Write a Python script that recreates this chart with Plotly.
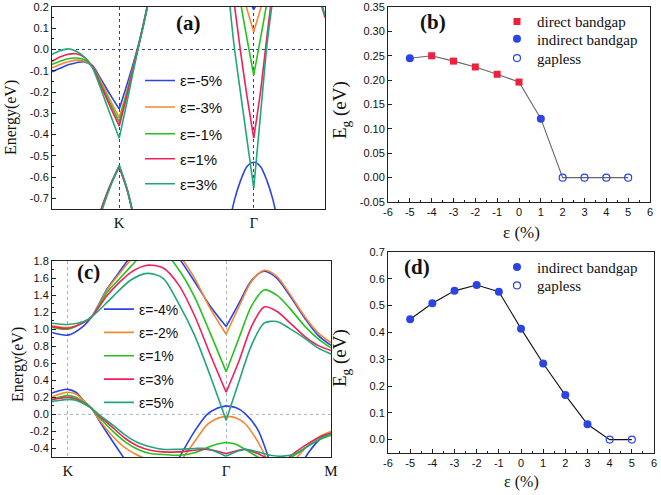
import plotly.graph_objects as go

W, H = 661, 495
SERIF = "Liberation Serif"
SANS = "Liberation Sans"

# ---------------- colours / labels ----------------
colors = ["#2a44e6", "#f7862f", "#25c21f", "#f0215a", "#21a67c"]
labels_a = ["ε=-5%", "ε=-3%", "ε=-1%", "ε=1%", "ε=3%"]
labels_c = ["ε=-4%", "ε=-2%", "ε=1%", "ε=3%", "ε=5%"]

# ---------------- panel (a) band structure ----------------
a_kpos = [1.0, 2.0]
a_klab = ["K", "Γ"]
a_yticks = [0.2, 0.1, 0.0, -0.1, -0.2, -0.3, -0.4, -0.5, -0.6, -0.7]
a_yticklab = ["0.2", "0.1", "0.0", "-0.1", "-0.2", "-0.3", "-0.4", "-0.5", "-0.6", "-0.7"]

a_x_cbK_left = [0.50, 0.56, 0.62, 0.68, 0.74, 0.80, 0.86, 0.93, 1.00]
a_cbK_left = [
    [-0.105, -0.088, -0.072, -0.062, -0.058, -0.075, -0.135, -0.21, -0.28],
    [-0.086, -0.070, -0.057, -0.050, -0.055, -0.080, -0.145, -0.235, -0.32],
    [-0.070, -0.055, -0.043, -0.040, -0.048, -0.080, -0.155, -0.25, -0.34],
    [-0.055, -0.035, -0.022, -0.020, -0.036, -0.080, -0.165, -0.265, -0.36],
    [-0.023, -0.006, 0.003, -0.008, -0.035, -0.085, -0.18, -0.30, -0.417],
]
a_x_cbK_right = [1.00, 1.05, 1.10, 1.15, 1.20, 1.25]
a_cbK_right = [
    [-0.28, -0.18, -0.075, 0.04, 0.18, 0.34],
    [-0.32, -0.21, -0.09, 0.035, 0.175, 0.34],
    [-0.34, -0.22, -0.095, 0.035, 0.175, 0.34],
    [-0.36, -0.235, -0.10, 0.035, 0.175, 0.34],
    [-0.417, -0.27, -0.115, 0.03, 0.17, 0.33],
]
a_x_vbK_left = [0.82, 0.88, 0.94, 1.00]
a_vbK_left = [
    [-0.84, -0.725, -0.628, -0.55],
    [-0.84, -0.725, -0.628, -0.55],
    [-0.84, -0.727, -0.630, -0.55],
    [-0.845, -0.728, -0.630, -0.552],
    [-0.86, -0.740, -0.635, -0.543],
]
a_x_vbK_right = [1.00, 1.06, 1.12]
a_vbK_right = [
    [-0.55, -0.66, -0.82],
    [-0.55, -0.66, -0.82],
    [-0.55, -0.662, -0.82],
    [-0.552, -0.664, -0.825],
    [-0.543, -0.66, -0.83],
]
a_x_cbG_left = [1.80, 1.85, 1.90, 1.95, 2.00]
a_cbG_left = [
    [0.60, 0.50, 0.40, 0.26, 0.187],
    [0.50, 0.40, 0.30, 0.19, 0.083],
    [0.70, 0.45, 0.23, 0.05, -0.12],
    [0.45, 0.24, 0.00, -0.22, -0.417],
    [0.36, 0.04, -0.196, -0.424, -0.652],
]
a_x_cbG_right = [2.00, 2.05, 2.10, 2.15, 2.20]
a_cbG_right = [
    [0.187, 0.26, 0.40, 0.50, 0.60],
    [0.083, 0.19, 0.30, 0.40, 0.50],
    [-0.12, 0.05, 0.23, 0.45, 0.70],
    [-0.417, -0.20, 0.07, 0.33, 0.60],
    [-0.652, -0.31, 0.03, 0.28, 0.55],
]
a_x_vbG = [1.82, 1.86, 1.90, 1.95, 2.00, 2.05, 2.10, 2.14, 2.18]
a_vbG = [
    [-0.81, -0.70, -0.62, -0.55, -0.53, -0.55, -0.62, -0.70, -0.81],
    None, None, None, None,
]
a_x_edge = [2.48, 2.53]
a_edge = [None, None, None, [0.26, 0.15], [0.27, 0.16]]

# ---------------- panel (c) band structure ----------------
c_kpos = [0.0, 1.0, 1.663]
c_klab = ["K", "Γ", "M"]
c_yticks = [1.8, 1.6, 1.4, 1.2, 1.0, 0.8, 0.6, 0.4, 0.2, 0.0, -0.2, -0.4]
c_yticklab = ["1.8", "1.6", "1.4", "1.2", "1.0", "0.8", "0.6", "0.4", "0.2", "0.0", "-0.2", "-0.4"]

c_x_cb_left = [-0.10, 0.0, 0.10, 0.15, 0.25, 0.32, 0.40, 0.50, 0.60, 0.70, 0.80, 0.90, 1.0]
c_cb_left = [
    [0.96, 0.93, 1.04, 1.145, 1.48, 1.66, 1.86, 2.05, 2.10, 1.84, 1.56, 1.27, 1.03],
    [1.04, 1.02, 1.08, 1.145, 1.47, 1.64, 1.82, 2.02, 2.10, 1.88, 1.60, 1.24, 0.94],
    [1.02, 1.00, 1.08, 1.145, 1.44, 1.58, 1.74, 1.92, 1.92, 1.70, 1.38, 0.95, 0.50],
    [1.03, 1.01, 1.08, 1.145, 1.40, 1.54, 1.67, 1.75, 1.72, 1.52, 1.16, 0.70, 0.26],
    [1.07, 1.055, 1.09, 1.145, 1.32, 1.45, 1.58, 1.655, 1.60, 1.30, 0.93, 0.45, -0.07],
]
c_x_cb_right = [1.0, 1.08, 1.16, 1.24, 1.32, 1.40, 1.50, 1.58, 1.663]
c_cb_right = [
    [1.03, 1.30, 1.57, 1.68, 1.60, 1.40, 1.12, 0.93, 0.81],
    [0.94, 1.26, 1.56, 1.69, 1.62, 1.42, 1.14, 0.96, 0.84],
    [0.50, 0.89, 1.27, 1.46, 1.40, 1.25, 1.03, 0.89, 0.78],
    [0.26, 0.62, 1.03, 1.26, 1.21, 1.08, 0.91, 0.81, 0.75],
    [-0.07, 0.38, 0.81, 1.07, 1.09, 1.01, 0.89, 0.78, 0.71],
]
c_x_vb_left = [-0.10, -0.05, 0.0, 0.05, 0.10, 0.15, 0.20, 0.28, 0.36, 0.44, 0.52, 0.60, 0.70, 0.80, 0.88, 0.94, 1.0]
c_vb_left = [
    [0.25, 0.28, 0.294, 0.26, 0.16, 0.07, -0.08, -0.31, -0.53, None, None, None, -0.52, -0.20, 0.0, 0.07, 0.10],
    [0.21, 0.24, 0.26, 0.24, 0.16, 0.07, -0.07, -0.25, -0.39, -0.48, -0.54, None, -0.58, -0.32, -0.12, -0.05, -0.02],
    [0.18, 0.205, 0.22, 0.20, 0.14, 0.07, -0.04, -0.19, -0.32, -0.41, -0.46, -0.47, -0.48, -0.45, -0.39, -0.35, -0.33],
    [0.17, 0.19, 0.20, 0.18, 0.13, 0.07, -0.02, -0.15, -0.28, -0.37, -0.42, -0.44, -0.44, -0.42, -0.41, -0.43, -0.46],
    [0.15, 0.165, 0.176, 0.165, 0.125, 0.07, -0.01, -0.12, -0.24, -0.33, -0.38, -0.41, -0.41, -0.40, -0.40, -0.44, -0.49],
]
c_x_vb_right = [1.0, 1.06, 1.12, 1.20, 1.28, 1.36, 1.44, 1.52, 1.60, 1.663]
c_vb_right = [
    [0.10, 0.08, 0.01, -0.18, -0.58, None, -0.70, -0.45, -0.28, -0.22],
    [-0.02, -0.04, -0.11, -0.32, -0.62, None, -0.52, -0.36, -0.25, -0.20],
    [-0.33, -0.35, -0.41, -0.50, -0.57, -0.56, -0.47, -0.37, -0.29, -0.245],
    [-0.46, -0.43, -0.41, -0.46, -0.53, -0.55, -0.44, -0.34, -0.26, -0.22],
    [-0.49, -0.44, -0.41, -0.44, -0.48, -0.49, -0.46, -0.37, -0.28, -0.23],
]

# ---------------- panels (b) and (d) ----------------
strain = [-5, -4, -3, -2, -1, 0, 1, 2, 3, 4, 5]
b_gap = [0.245, 0.250, 0.239, 0.227, 0.212, 0.196, 0.121, 0.0, 0.0, 0.0, 0.0]
b_kind = ["indirect", "direct", "direct", "direct", "direct", "direct",
          "indirect", "gapless", "gapless", "gapless", "gapless"]
d_gap = [0.449, 0.509, 0.555, 0.577, 0.552, 0.414, 0.284, 0.166, 0.057, 0.0, 0.0]
d_kind = ["indirect"] * 9 + ["gapless"] * 2
strain_ticks = [-6, -5, -4, -3, -2, -1, 0, 1, 2, 3, 4, 5, 6]
b_yticks = [-0.05, 0.0, 0.05, 0.10, 0.15, 0.20, 0.25, 0.30, 0.35]
b_yticklab = ["-0.05", "0.00", "0.05", "0.10", "0.15", "0.20", "0.25", "0.30", "0.35"]
d_yticks = [0.0, 0.1, 0.2, 0.3, 0.4, 0.5, 0.6, 0.7]
d_yticklab = ["0.0", "0.1", "0.2", "0.3", "0.4", "0.5", "0.6", "0.7"]
kind_names = {"direct": "direct bandgap", "indirect": "indirect bandgap", "gapless": "gapless"}

# legend item centres (pixels from top-left) – layout only
a_leg_names = ["legend", "legend5", "legend6", "legend7", "legend8"]
a_leg_py = [81.7, 108.3, 135.0, 160.0, 185.0]
c_leg_names = ["legend3", "legend9", "legend10", "legend11", "legend12"]
c_leg_py = [310.0, 333.3, 356.7, 380.0, 403.3]
b_leg_names = {"direct": "legend2", "indirect": "legend13", "gapless": "legend14"}
b_leg_py = {"direct": 22.7, "indirect": 40.0, "gapless": 59.3}
d_leg_names = {"indirect": "legend4", "gapless": "legend15"}
d_leg_py = {"indirect": 268.3, "gapless": 286.7}


def join(segments):
    xs, ys = [], []
    for sx, sy in segments:
        if sy is None:
            continue
        if xs:
            xs.append(None)
            ys.append(None)
        xs.extend(sx)
        ys.extend(sy)
    return xs, ys


fig = go.Figure()

# panel (a)
for i in range(5):
    segs = [
        (a_x_cbK_left, a_cbK_left[i]), (a_x_cbK_right, a_cbK_right[i]),
        (a_x_vbK_left, a_vbK_left[i]), (a_x_vbK_right, a_vbK_right[i]),
        (a_x_cbG_left, a_cbG_left[i]), (a_x_cbG_right, a_cbG_right[i]),
        (a_x_vbG, a_vbG[i]), (a_x_edge, a_edge[i]),
    ]
    xs, ys = join(segs)
    fig.add_trace(go.Scatter(
        x=xs, y=ys, mode="lines", name=labels_a[i],
        line=dict(color=colors[i], width=1.6, shape="spline", smoothing=0.8),
        xaxis="x", yaxis="y", legend=a_leg_names[i],
        connectgaps=False, hoverinfo="skip"))

# panel (c)
for i in range(5):
    segs = [
        (c_x_cb_left, c_cb_left[i]), (c_x_cb_right, c_cb_right[i]),
        (c_x_vb_left, c_vb_left[i]), (c_x_vb_right, c_vb_right[i]),
    ]
    xs, ys = join(segs)
    fig.add_trace(go.Scatter(
        x=xs, y=ys, mode="lines", name=labels_c[i],
        line=dict(color=colors[i], width=1.6, shape="spline", smoothing=0.8),
        xaxis="x3", yaxis="y3", legend=c_leg_names[i],
        connectgaps=False, hoverinfo="skip"))


def gap_panel(gaps, kinds, xa, ya, leg_names, line_color, kinds_order):
    fig.add_trace(go.Scatter(
        x=strain, y=gaps, mode="lines", showlegend=False,
        line=dict(color=line_color, width=1.1), xaxis=xa, yaxis=ya, hoverinfo="skip"))
    styles = {
        "direct": dict(symbol="square", size=7, color="#f0203c", line=dict(width=0)),
        "indirect": dict(symbol="circle", size=8, color="#2a44e6", line=dict(width=0)),
        "gapless": dict(symbol="circle-open", size=7, color="#2a44e6", line=dict(width=1.2)),
    }
    for k in kinds_order:
        xs = [s for s, kk in zip(strain, kinds) if kk == k]
        ys = [g for g, kk in zip(gaps, kinds) if kk == k]
        fig.add_trace(go.Scatter(
            x=xs, y=ys, mode="markers", name=kind_names[k], marker=styles[k],
            xaxis=xa, yaxis=ya, legend=leg_names[k], hoverinfo="skip"))


gap_panel(b_gap, b_kind, "x2", "y2", b_leg_names, "#666666", ["direct", "indirect", "gapless"])
gap_panel(d_gap, d_kind, "x4", "y4", d_leg_names, "#111111", ["indirect", "gapless"])


def px_dom(a, b):
    return [a / W, b / W]


def py_dom(top, bottom):
    return [1 - bottom / H, 1 - top / H]


tickfont = dict(family=SANS, size=11, color="#111")
base = dict(showline=True, linecolor="#222", linewidth=1, mirror=True, zeroline=False,
            showgrid=False, tickfont=tickfont, ticks="inside", ticklen=4,
            tickcolor="#222", fixedrange=True, ticklabeloverflow="allow")

layout = dict(
    width=W, height=H, template="none",
    paper_bgcolor="white", plot_bgcolor="white",
    margin=dict(l=0, r=0, t=0, b=0),
    showlegend=True,
    xaxis=dict(base, domain=px_dom(52, 325), anchor="y", range=[0.5, 2.53],
               tickmode="array", tickvals=a_kpos, ticktext=a_klab, ticks="",
               tickfont=dict(family=SERIF, size=15, color="#111"),
               showgrid=True, griddash="dot", gridcolor="#334477", gridwidth=1),
    yaxis=dict(base, domain=py_dom(7, 209), anchor="x", range=[-0.75, 0.2],
               tickmode="array", tickvals=a_yticks, ticktext=a_yticklab,
               minor=dict(tickmode="array", tickvals=[v + 0.05 for v in a_yticks[1:]],
                          ticks="inside", ticklen=2, tickcolor="#222")),
    xaxis2=dict(base, domain=px_dom(388, 650), anchor="y2", range=[-6, 6],
                tickmode="array", tickvals=strain_ticks, ticktext=[str(t) for t in strain_ticks],
                minor=dict(tickmode="array", tickvals=[t + 0.5 for t in strain_ticks[:-1]],
                           ticks="inside", ticklen=2, tickcolor="#222")),
    yaxis2=dict(base, domain=py_dom(7, 202), anchor="x2", range=[-0.05, 0.35],
                tickmode="array", tickvals=b_yticks, ticktext=b_yticklab),
    xaxis3=dict(base, domain=px_dom(52, 331), anchor="y3", range=[-0.101, 1.663],
                tickmode="array", tickvals=c_kpos, ticktext=c_klab, ticks="",
                tickfont=dict(family=SERIF, size=15, color="#111"),
                showgrid=True, griddash="dot", gridcolor="#aab0c0", gridwidth=1),
    yaxis3=dict(base, domain=py_dom(261, 457), anchor="x3", range=[-0.5, 1.8],
                tickmode="array", tickvals=c_yticks, ticktext=c_yticklab,
                minor=dict(tickmode="array", tickvals=[v + 0.1 for v in c_yticks[1:]],
                           ticks="inside", ticklen=2, tickcolor="#222")),
    xaxis4=dict(base, domain=px_dom(388, 654), anchor="y4", range=[-6, 6],
                tickmode="array", tickvals=strain_ticks, ticktext=[str(t) for t in strain_ticks],
                minor=dict(tickmode="array", tickvals=[t + 0.5 for t in strain_ticks[:-1]],
                           ticks="inside", ticklen=2, tickcolor="#222")),
    yaxis4=dict(base, domain=py_dom(252, 453), anchor="x4", range=[-0.05, 0.7],
                tickmode="array", tickvals=d_yticks, ticktext=d_yticklab),
)


def leg(px_left, py_center, family, size, off):
    return dict(x=px_left / W, y=1 - (py_center - off) / H, xanchor="left", yanchor="top",
                bgcolor="rgba(0,0,0,0)", borderwidth=0,
                font=dict(family=family, size=size, color="#111"))


for name, py in zip(a_leg_names, a_leg_py):
    layout[name] = leg(140, py, SANS, 15, 17.5)
for name, py in zip(c_leg_names, c_leg_py):
    layout[name] = leg(99, py, SANS, 14, 16.5)
for k, name in b_leg_names.items():
    layout[name] = leg(497, b_leg_py[k], SERIF, 15, 17.5)
for k, name in d_leg_names.items():
    layout[name] = leg(497, d_leg_py[k], SERIF, 15, 17.5)

fig.update_layout(**layout)

# Fermi level reference lines
fig.add_shape(type="line", xref="x domain", yref="y", x0=0, x1=1, y0=0, y1=0,
              line=dict(color="#334477", width=1, dash="dot"), layer="below")
fig.add_shape(type="line", xref="x3 domain", yref="y3", x0=0, x1=1, y0=0, y1=0,
              line=dict(color="#aab0c0", width=1, dash="dot"), layer="below")

ann = []


def label(text, px, py, size, family=SERIF, angle=0, bold=False):
    ann.append(dict(text=f"<b>{text}</b>" if bold else text, x=px / W, y=1 - py / H,
                    xref="paper", yref="paper", showarrow=False, textangle=angle,
                    xanchor="center", yanchor="middle",
                    font=dict(family=family, size=size, color="#111")))


label("(a)", 188, 23, 21, bold=True)
label("(b)", 433, 22, 21, bold=True)
label("(c)", 88, 272, 21, bold=True)
label("(d)", 417, 267, 21, bold=True)
label("Energy(eV)", 11, 118, 16, angle=-90)
label("Energy(eV)", 18, 365, 16, angle=-90)
label("E<sub>g</sub> (eV)", 341, 110, 19, angle=-90)
label("E<sub>g</sub> (eV)", 341, 358, 19, angle=-90)
label("ε (%)", 521, 233, 17)
label("ε (%)", 521, 482, 16)
fig.update_layout(annotations=ann)

fig.write_html("out.html", config={"displayModeBar": False},
               post_script="document.body.style.margin='0px';")
